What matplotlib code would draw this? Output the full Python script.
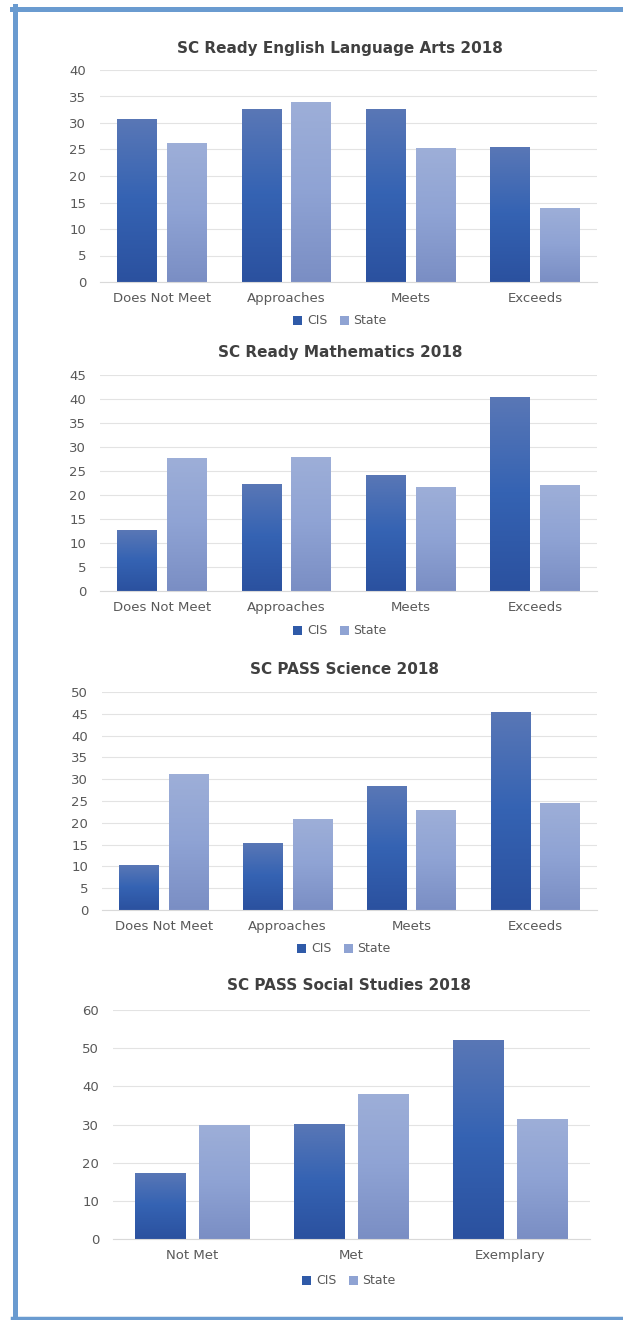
import matplotlib
matplotlib.use('Agg')
import matplotlib.pyplot as plt
import numpy as np
from matplotlib.colors import LinearSegmentedColormap
from matplotlib.patches import Patch
from matplotlib.lines import Line2D

plt.rcParams['font.family'] = ['DejaVu Sans']

series_names = ['CIS', 'State']

ela_cats = ['Does Not Meet', 'Approaches', 'Meets', 'Exceeds']
ela_cis = [30.8, 32.6, 32.6, 25.5]
ela_state = [26.3, 34.0, 25.2, 14.0]

math_cats = ['Does Not Meet', 'Approaches', 'Meets', 'Exceeds']
math_cis = [12.7, 22.3, 24.2, 40.4]
math_state = [27.8, 28.0, 21.7, 22.0]

sci_cats = ['Does Not Meet', 'Approaches', 'Meets', 'Exceeds']
sci_cis = [10.3, 15.4, 28.4, 45.5]
sci_state = [31.1, 20.8, 22.9, 24.5]

ss_cats = ['Not Met', 'Met', 'Exemplary']
ss_cis = [17.4, 30.2, 52.2]
ss_state = [30.0, 38.0, 31.5]

W, H = 623, 1320
fig = plt.figure(figsize=(W / 100, H / 100), dpi=100)

cis_cmap = LinearSegmentedColormap.from_list('cis', ['#2b519f', '#3563b3', '#5b78b6'])
state_cmap = LinearSegmentedColormap.from_list('state', ['#7a8ec4', '#8fa3d4', '#9eafd8'])
grad = np.linspace(0, 1, 256).reshape(-1, 1)

TXT = '#595959'


def fbox(left, right, top, bottom):
    # pixel box -> figure fraction
    return [left / W, 1 - bottom / H, (right - left) / W, (bottom - top) / H]


def chart(box, title, title_y, legend_y, center_x, cats, cis, state, ymax, ystep):
    ax = fig.add_axes(fbox(*box))
    x = np.arange(len(cats))
    bw = 0.32
    for vals, off, cmap in [(cis, -0.2, cis_cmap), (state, 0.2, state_cmap)]:
        bars = ax.bar(x + off, vals, width=bw, facecolor='none',
                      edgecolor='none', linewidth=0, zorder=3)
        for p in bars:
            x0, w, h = p.get_x(), p.get_width(), p.get_height()
            im = ax.imshow(grad, cmap=cmap, origin='lower', aspect='auto',
                           extent=[x0 - 0.01, x0 + w + 0.01, 0, h * 1.02],
                           zorder=2, interpolation='bilinear')
            im.set_clip_path(p)
    ax.set_xlim(-0.5, len(cats) - 0.5)
    ax.set_ylim(0, ymax)
    ax.set_yticks(np.arange(0, ymax + 0.1, ystep))
    ax.set_xticks(x)
    ax.set_xticklabels(cats)
    ax.grid(axis='y', color='#e3e3e3', linewidth=0.8, zorder=0)
    ax.set_axisbelow(True)
    for s in ['top', 'right', 'left']:
        ax.spines[s].set_visible(False)
    ax.spines['bottom'].set_color('#d9d9d9')
    ax.tick_params(length=0, labelsize=9.5, labelcolor=TXT)
    ax.tick_params(axis='y', pad=10)
    ax.tick_params(axis='x', pad=7)
    cx = center_x / W
    fig.text(cx, 1 - title_y / H, title, ha='center', va='center',
             fontsize=11, fontweight='bold', color='#404040')
    handles = [Patch(facecolor='#2f5aa8'), Patch(facecolor='#8fa3d3')]
    fig.legend(handles, series_names, loc='center', bbox_to_anchor=(cx, 1 - legend_y / H),
               ncol=2, frameon=False, fontsize=9, labelcolor=TXT,
               handlelength=0.7, handleheight=0.7, handletextpad=0.4, columnspacing=1.0)
    return ax


chart((100, 597, 70, 282), 'SC Ready English Language Arts 2018', 48, 321, 340,
      ela_cats, ela_cis, ela_state, 40, 5)
chart((100, 597, 375, 591), 'SC Ready Mathematics 2018', 353, 631, 340,
      math_cats, math_cis, math_state, 45, 5)
chart((102, 597, 692, 910), 'SC PASS Science 2018', 669, 949, 344,
      sci_cats, sci_cis, sci_state, 50, 5)
chart((113, 590, 1010, 1239), 'SC PASS Social Studies 2018', 985, 1281, 349,
      ss_cats, ss_cis, ss_state, 60, 10)

# page border
bc = '#6a9bd0'
fig.add_artist(Line2D([12 / W, 1], [1 - 8.5 / H] * 2, color=bc, lw=3.6, transform=fig.transFigure))
fig.add_artist(Line2D([14.5 / W] * 2, [1 - 6 / H, 1 - 1319 / H], color=bc, lw=3.6, transform=fig.transFigure))
fig.add_artist(Line2D([12 / W, 1], [1 - 1317.5 / H] * 2, color=bc, lw=2.5, transform=fig.transFigure))

fig.savefig('out.png', dpi=100)
